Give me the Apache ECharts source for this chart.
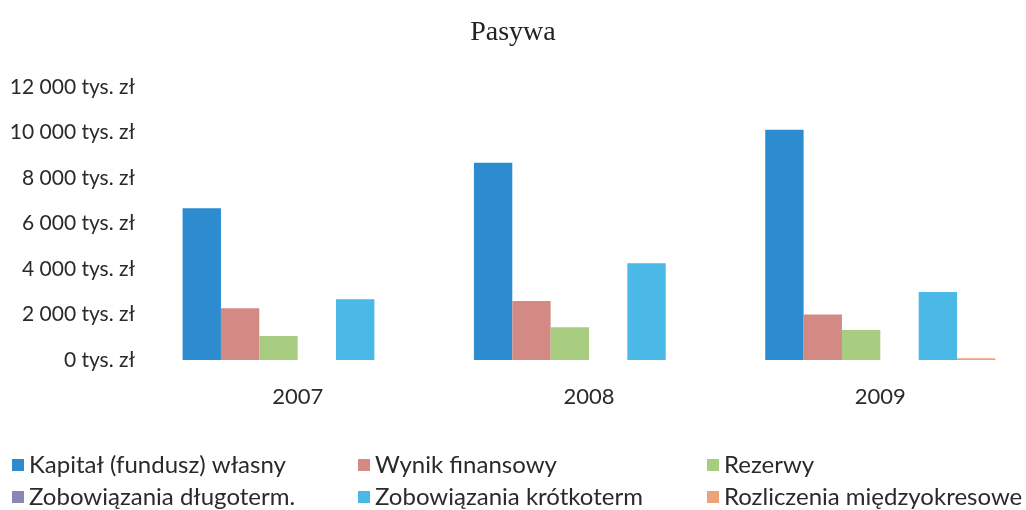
<!DOCTYPE html>
<html><head><meta charset="utf-8">
<script src="https://cdn.jsdelivr.net/npm/echarts@6/dist/echarts.min.js"></script>
<style>html,body{margin:0;padding:0;background:#fff}#c{width:1026px;height:510px}</style>
</head><body><div id="c"></div>
<script>
const categories = ['2007', '2008', '2009'];
const seriesNames = ['Kapitał (fundusz) własny', 'Wynik finansowy', 'Rezerwy', 'Zobowiązania długoterm.', 'Zobowiązania krótkoterm', 'Rozliczenia międzyokresowe'];
const kapital = [6670, 8670, 10120];
const wynik = [2270, 2590, 2000];
const rezerwy = [1060, 1440, 1320];
const dlugoterm = [0, 0, 0];
const krotkoterm = [2670, 4250, 2990];
const rozliczenia = [0, 0, 80];
const yTicks = [0, 2000, 4000, 6000, 8000, 10000, 12000];

const values = [kapital, wynik, rezerwy, dlugoterm, krotkoterm, rozliczenia];
const colors = ['#2d8ccf', '#d48a84', '#a8cd80', '#8a86b6', '#4ab9e8', '#eea27a'];
const fmt = v => String(v).replace(/\B(?=(\d{3})+(?!\d))/g, '\u00a0') + ' tys. zł';

const legendPos = [[12, 453], [358, 453], [707, 453], [12, 485], [358, 485], [707, 485]];
const chart = echarts.init(document.getElementById('c'));
chart.setOption({
  animation: false,
  title: {text: 'Pasywa', left: 'center', top: 14, textStyle: {fontFamily: 'Liberation Serif', fontWeight: 'normal', fontSize: 28, color: '#222'}},
  grid: {left: 152, right: -6, top: 87, bottom: 150},
  legend: seriesNames.map((n, i) => ({
    data: [n], left: legendPos[i][0], top: legendPos[i][1], itemWidth: 12, itemHeight: 12, itemGap: 6,
    icon: 'rect', textStyle: {fontFamily: 'Lato', fontSize: 24, color: '#2a2a2a'}, padding: 0
  })),
  xAxis: {type: 'category', data: categories, axisLine: {show: false}, axisTick: {show: false},
    axisLabel: {fontFamily: 'Lato', fontSize: 22, color: '#2a2a2a', margin: 26}},
  yAxis: {type: 'value', min: 0, max: 12000, interval: 2000, splitLine: {show: false},
    axisLabel: {formatter: fmt, fontFamily: 'Lato', fontSize: 21, color: '#2a2a2a', margin: 17}},
  series: seriesNames.map((n, i) => ({
    name: n, type: 'bar', data: values[i], barGap: '0%', barCategoryGap: '21%',
    itemStyle: {color: colors[i]}
  }))
});
</script></body></html>
